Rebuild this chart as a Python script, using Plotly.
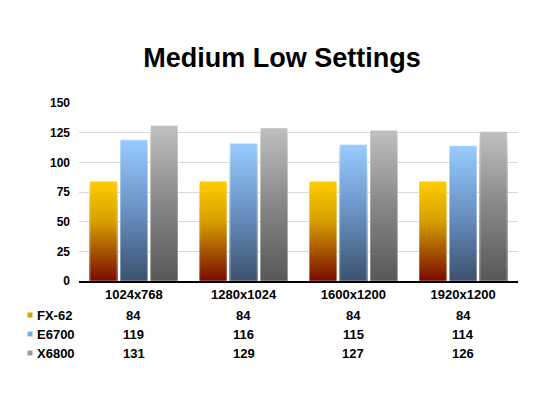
import plotly.graph_objects as go

categories = ["1024x768", "1280x1024", "1600x1200", "1920x1200"]
series_names = ["FX-62", "E6700", "X6800"]
fx62 = [84, 84, 84, 84]
e6700 = [119, 116, 115, 114]
x6800 = [131, 129, 127, 126]
y_ticks = [0, 25, 50, 75, 100, 125, 150]

series_values = [fx62, e6700, x6800]
# gradient stops: (fraction of bar height, rgb)
gradients = [
    [(0.0, (122, 12, 0)), (0.3, (165, 85, 0)), (0.6, (215, 160, 0)), (1.0, (255, 204, 0))],
    [(0.0, (60, 82, 110)), (0.5, (105, 145, 195)), (1.0, (153, 204, 255))],
    [(0.0, (88, 88, 88)), (0.5, (135, 135, 135)), (1.0, (192, 192, 192))],
]
legend_colors = ["#D9A000", "#7AAAE0", "#9A9A9A"]

FONT = "Liberation Sans, Arial, sans-serif"
OFF = 8  # page body margin


def interp(stops, f):
    for (f0, c0), (f1, c1) in zip(stops[:-1], stops[1:]):
        if f0 <= f <= f1:
            t = (f - f0) / (f1 - f0) if f1 > f0 else 0
            c = [round(a + (b - a) * t) for a, b in zip(c0, c1)]
            return "rgb(%d,%d,%d)" % tuple(c)
    c = stops[-1][1]
    return "rgb(%d,%d,%d)" % tuple(c)


fig = go.Figure()
N = 70
for name, vals, stops in zip(series_names, series_values, gradients):
    for k in range(N):
        frac = (N - k) / N
        fig.add_trace(go.Bar(
            x=categories,
            y=[v * frac for v in vals],
            offsetgroup=name,
            marker=dict(color=interp(stops, frac - 0.5 / N), line=dict(width=0)),
            showlegend=False,
            hoverinfo="skip",
        ))
    fig.add_trace(go.Bar(
        x=categories, y=vals, offsetgroup=name,
        marker=dict(color="rgba(0,0,0,0)", line=dict(color="rgba(255,255,255,0.45)", width=1)),
        showlegend=False, hoverinfo="skip",
    ))

PLOT_TOP, PLOT_BOTTOM = 103, 281
PH = PLOT_BOTTOM - PLOT_TOP
L, R = 79, 518
PW = R - L


def py(p):
    return (PLOT_BOTTOM - p) / PH


def px(p):
    return (p - L) / PW


annotations = []
row_y = [315, 334, 353]
for name, vals, col, ry in zip(series_names, series_values, legend_colors, row_y):
    annotations.append(dict(
        x=px(35), y=py(ry), xref="paper", yref="paper", text=name,
        showarrow=False, xanchor="left", yanchor="middle",
        font=dict(family=FONT, size=13, color="black", weight="bold"),
    ))
    for c, v in zip(categories, vals):
        annotations.append(dict(
            x=c, y=py(ry), xref="x", yref="paper", text=str(v),
            showarrow=False, xanchor="center", yanchor="middle",
            font=dict(family=FONT, size=13, color="black", weight="bold"),
        ))

shapes = []
for col, ry in zip(legend_colors, row_y):
    shapes.append(dict(
        type="rect", xref="paper", yref="paper",
        x0=px(27.5), x1=px(32.5), y0=py(ry + 2.5), y1=py(ry - 2.5),
        fillcolor=col, line=dict(width=0),
    ))

fig.update_layout(
    width=550, height=411,
    margin=dict(l=L - OFF, r=550 - R + OFF, t=PLOT_TOP - OFF, b=411 - PLOT_BOTTOM + OFF),
    paper_bgcolor="white", plot_bgcolor="white",
    barmode="group", bargap=0.17, bargroupgap=0.1,
    title=dict(
        text="Medium Low Settings", x=(282 - OFF) / 550, xref="container", xanchor="center",
        y=1 - (58 - OFF) / 411, yref="container", yanchor="middle",
        font=dict(family=FONT, size=27, color="black", weight="bold"),
    ),
    xaxis=dict(
        showline=True, linecolor="black", linewidth=2, ticks="",
        tickfont=dict(family=FONT, size=13, color="black", weight="bold"),
        showgrid=False,
    ),
    yaxis=dict(
        range=[0, 150], tickvals=y_ticks, ticks="",
        showgrid=True, gridcolor="#D9D9D9", gridwidth=1, zeroline=False,
        tickfont=dict(family=FONT, size=12, color="black", weight="bold"),
        ticklabelstandoff=8,
    ),
    annotations=annotations,
    shapes=shapes,
    showlegend=False,
)

fig.write_html("out.html")
